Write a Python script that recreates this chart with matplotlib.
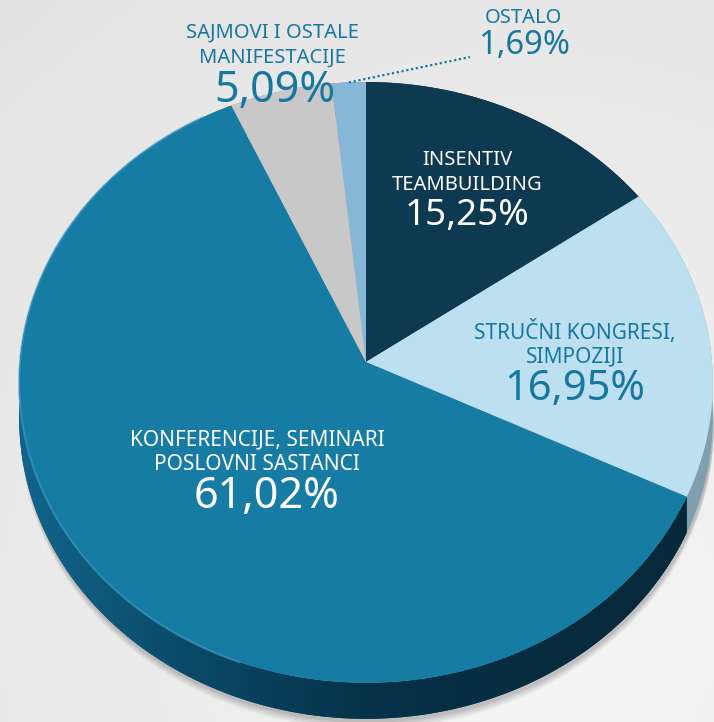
import numpy as np
import matplotlib
matplotlib.use("Agg")
import matplotlib.pyplot as plt
from matplotlib.patches import Polygon
from matplotlib.colors import LinearSegmentedColormap

# slice data, clockwise from 12 o'clock
labels = ["INSENTIV\nTEAMBUILDING", "STRUČNI KONGRESI,\nSIMPOZIJI",
          "KONFERENCIJE, SEMINARI\nPOSLOVNI SASTANCI",
          "SAJMOVI I OSTALE\nMANIFESTACIJE", "OSTALO"]
values = [15.25, 16.95, 61.02, 5.09, 1.69]
pct_text = ["15,25%", "16,95%", "61,02%", "5,09%", "1,69%"]

top_colors = ["#0d3a50", "#bde0f1", "#177ca3", "#c8c8c8", "#86b7d6"]
side_colors = ["#082536", "#7f9fae", "#0a4560", "#8a8a8a", "#5d87a3"]
text_colors = ["white", "#1777a0", "white", "#1777a0", "#1777a0"]

# layout (pixels): label centre, line step, small/big font size
label_pos = [(467, 160), (575, 332), (257, 440), (272, 33), (523, 18)]
pct_pos = [(467, 216), (575, 389), (267, 497), (275, 91), (524, 45)]
small_fs = [14.5, 15, 15, 14.5, 14.5]
big_fs = [26.5, 30, 31, 31, 23.5]
FONT = ["Noto Sans", "DejaVu Sans"]

W, H = 714, 722
CX, CY = 366, 362     # pie centre on screen
A, B, K = 346, 299, 0.068   # perspective ellipse params
DEPTH = 36


def proj(phi, drop=0.0):
    u = np.cos(phi)
    v = np.sin(phi)
    w = 1 + K * v
    return CX + A * u / w, CY - B * v / w + drop


fig = plt.figure(figsize=(W / 100, H / 100), dpi=100)
ax = fig.add_axes([0, 0, 1, 1])
ax.set_xlim(0, W)
ax.set_ylim(H, 0)
ax.axis("off")

# background: soft light gray vignette
yy, xx = np.mgrid[0:H, 0:W]
d = np.sqrt(((xx - 520) / W) ** 2 + ((yy - 620) / H) ** 2)
bg = np.clip(0.965 - 0.07 * d, 0, 1)
ax.imshow(np.dstack([bg, bg, bg]), extent=[0, W, H, 0], zorder=0)

# soft shadow under the pie
full = np.linspace(0, 2 * np.pi, 400)
for i, a in enumerate([0.05, 0.05, 0.06, 0.07]):
    sx, sy = proj(full, DEPTH + 2 + 2 * (4 - i))
    ax.add_patch(Polygon(np.column_stack([sx + 1, sy]), closed=True,
                         facecolor="black", alpha=a, edgecolor="none", zorder=1))

cum = np.concatenate([[0], np.cumsum(values)])
angles = [(np.pi / 2 - 2 * np.pi * cum[i] / 100,
           np.pi / 2 - 2 * np.pi * cum[i + 1] / 100) for i in range(len(values))]

# side faces
side_cmap = LinearSegmentedColormap.from_list(
    "side", ["#11668e", "#0a4a68", "#06324a", "#062c3e", "#06293a"])
for i, (a0, a1) in enumerate(angles):
    phi = np.linspace(a0, a1, 300)
    tx, ty = proj(phi)
    bx, by = proj(phi[::-1], DEPTH)
    poly = Polygon(np.column_stack([np.r_[tx, bx], np.r_[ty, by]]), closed=True,
                   facecolor=side_colors[i], edgecolor="none", zorder=2)
    ax.add_patch(poly)
    if i == 2:
        grad = np.tile(np.linspace(0, 1, 256), (10, 1))
        im = ax.imshow(grad, cmap=side_cmap, extent=[10, 714, 722, 300],
                       aspect="auto", zorder=2.5)
        im.set_clip_path(poly)

# top faces
for i, (a0, a1) in enumerate(angles):
    phi = np.linspace(a0, a1, 300)
    tx, ty = proj(phi)
    ax.add_patch(Polygon(np.column_stack([np.r_[CX, tx], np.r_[CY, ty]]), closed=True,
                         facecolor=top_colors[i], edgecolor="none", zorder=3))

# light rim on the left edge of the top face
phi = np.linspace(np.deg2rad(120), np.deg2rad(250), 200)
rx, ry = proj(phi)
ax.plot(rx, ry, color="#3d9cc4", lw=1.5, alpha=0.6, zorder=3.5)

# labels
for i in range(len(values)):
    lines = labels[i].split("\n")
    x0, y0 = label_pos[i]
    for j, ln in enumerate(lines):
        ax.text(x0, y0 + 25 * j, ln, ha="center", va="center",
                fontsize=small_fs[i], color=text_colors[i],
                family=FONT, zorder=5)
    ax.text(pct_pos[i][0], pct_pos[i][1], pct_text[i], ha="center", va="center",
            fontsize=big_fs[i], color=text_colors[i], family=FONT, zorder=5)

# dotted leader for OSTALO
mid = (angles[4][0] + angles[4][1]) / 2
lx, ly = proj(mid)
ax.plot([lx, 470], [ly, 57], color="#1777a0", lw=1.6, ls=(0, (1, 1.2)), zorder=5)

fig.savefig("out.png", dpi=100)
